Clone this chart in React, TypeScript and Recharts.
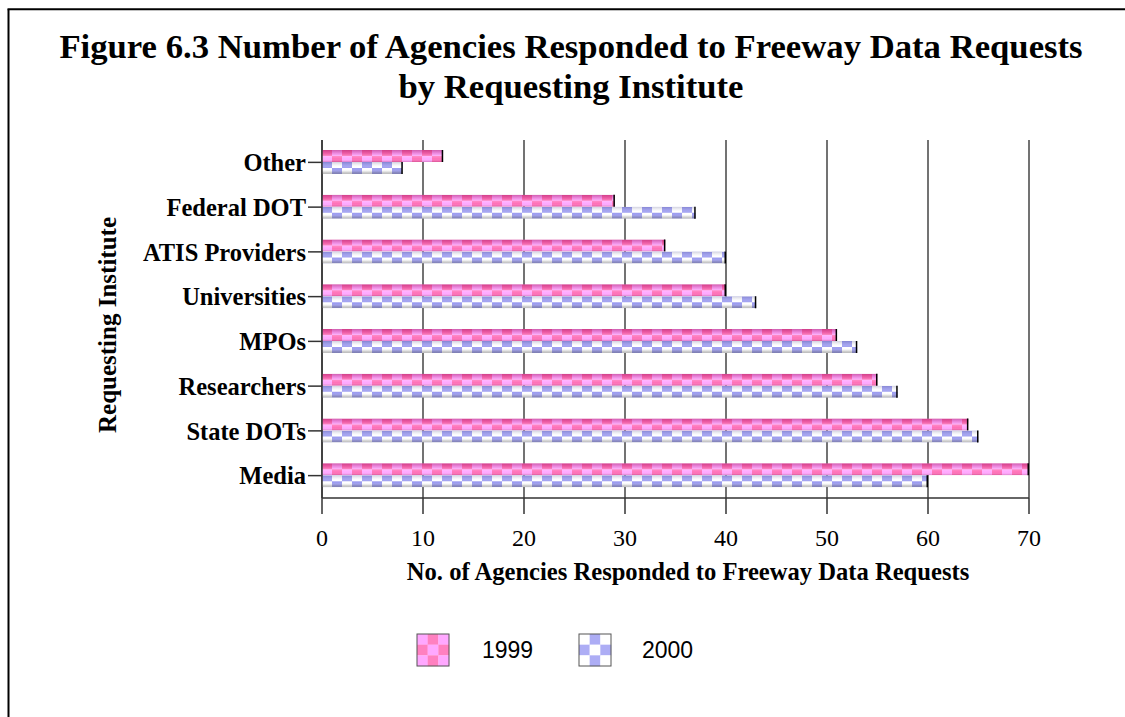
import React from "react";
import { BarChart, Bar, XAxis, YAxis, CartesianGrid } from "recharts";

const categories = ["Other", "Federal DOT", "ATIS Providers", "Universities", "MPOs", "Researchers", "State DOTs", "Media"];
const values1999 = [12, 29, 34, 40, 51, 55, 64, 70];
const values2000 = [8, 37, 40, 43, 53, 57, 65, 60];
const xTicks = [0, 10, 20, 30, 40, 50, 60, 70];
const seriesNames = ["1999", "2000"];

const data = categories.map((name, i) => ({ name, y1999: values1999[i], y2000: values2000[i] }));

const SERIF = "'Liberation Serif', 'Times New Roman', serif";
const SANS = "'Liberation Sans', Arial, sans-serif";

const makeShape = (pat: string, grad: string) => (props: any) => {
  const { x, y, width, height } = props;
  if (!width || width <= 0) return null;
  return (
    <g>
      <svg x={x} y={y} width={width} height={height} overflow="hidden">
        <rect x={0} y={0} width={width} height={height} fill={`url(#${pat})`} />
        <rect x={0} y={0} width={width} height={height} fill={`url(#${grad})`} />
      </svg>
      <line x1={x + width - 0.75} x2={x + width - 0.75} y1={y} y2={y + height} stroke="#000" strokeWidth={1.5} />
    </g>
  );
};

const Shape1999 = makeShape("chk99", "shade99");
const Shape2000 = makeShape("chk00", "shade00");

const Swatch = ({ x, y, a, b }: { x: number; y: number; a: string; b: string }) => {
  const cells = [];
  const s = 32 / 3;
  for (let r = 0; r < 3; r++) {
    for (let c = 0; c < 3; c++) {
      cells.push(<rect key={`${r}-${c}`} x={x + c * s} y={y + r * s} width={s + 0.2} height={s + 0.2} fill={(r + c) % 2 === 0 ? a : b} />);
    }
  }
  return (
    <g>
      {cells}
      <rect x={x} y={y} width={32} height={32} fill="none" stroke="#555" strokeWidth={1} />
    </g>
  );
};

export default function App() {
  return (
    <div style={{ position: "absolute", left: 0, top: 0, width: 1125, height: 717, background: "#fff" }}>
      <div style={{ position: "absolute", left: 0, top: 0 }}>
        <BarChart
          width={1125}
          height={717}
          data={data}
          layout="vertical"
          margin={{ top: 140, right: 96, bottom: 179, left: 122 }}
          barGap={0}
          barSize={12}
        >
          <CartesianGrid horizontal={false} vertical={true} stroke="#444" strokeWidth={1.5} />
          <XAxis
            type="number"
            domain={[0, 70]}
            ticks={xTicks}
            interval={0}
            height={40}
            tickSize={16}
            tickMargin={15}
            axisLine={{ stroke: "#333", strokeWidth: 1.5 }}
            tickLine={{ stroke: "#333", strokeWidth: 1.5 }}
            tick={{ fill: "#000", fontSize: 24, fontFamily: SERIF }}
          />
          <YAxis
            type="category"
            dataKey="name"
            width={200}
            interval={0}
            tickSize={14}
            tickMargin={2}
            axisLine={{ stroke: "#333", strokeWidth: 1.5 }}
            tickLine={{ stroke: "#333", strokeWidth: 1.5 }}
            tick={{ fill: "#000", fontSize: 24.5, fontFamily: SERIF, fontWeight: "bold" }}
          />
          <Bar dataKey="y1999" name={seriesNames[0]} isAnimationActive={false} shape={Shape1999} />
          <Bar dataKey="y2000" name={seriesNames[1]} isAnimationActive={false} shape={Shape2000} />
        </BarChart>
      </div>
      <svg width={1125} height={717} style={{ position: "absolute", left: 0, top: 0, pointerEvents: "none" }}>
        <defs>
          <pattern id="chk99" patternUnits="userSpaceOnUse" x={0} y={0} width={20} height={12}>
            <rect x={0} y={0} width={10} height={6} fill="#FF70B8" />
            <rect x={10} y={0} width={10} height={6} fill="#FFA8FF" />
            <rect x={0} y={6} width={10} height={6} fill="#FFA8FF" />
            <rect x={10} y={6} width={10} height={6} fill="#FF70B8" />
          </pattern>
          <pattern id="chk00" patternUnits="userSpaceOnUse" x={0} y={0} width={20} height={12}>
            <rect x={0} y={0} width={10} height={6} fill="#9C9CF0" />
            <rect x={10} y={0} width={10} height={6} fill="#FFFFFF" />
            <rect x={0} y={6} width={10} height={6} fill="#FFFFFF" />
            <rect x={10} y={6} width={10} height={6} fill="#9C9CF0" />
          </pattern>
          <linearGradient id="shade99" x1="0" y1="0" x2="0" y2="1">
            <stop offset="0" stopColor="rgb(150,0,80)" stopOpacity={0.45} />
            <stop offset="0.3" stopColor="rgb(150,0,80)" stopOpacity={0.15} />
            <stop offset="0.5" stopColor="#ffffff" stopOpacity={0.2} />
            <stop offset="0.75" stopColor="#ffffff" stopOpacity={0} />
            <stop offset="1" stopColor="rgb(120,0,60)" stopOpacity={0.3} />
          </linearGradient>
          <linearGradient id="shade00" x1="0" y1="0" x2="0" y2="1">
            <stop offset="0" stopColor="rgb(60,60,120)" stopOpacity={0.25} />
            <stop offset="0.4" stopColor="#ffffff" stopOpacity={0.1} />
            <stop offset="0.6" stopColor="#ffffff" stopOpacity={0} />
            <stop offset="0.85" stopColor="rgb(100,100,100)" stopOpacity={0.3} />
            <stop offset="1" stopColor="rgb(80,80,80)" stopOpacity={0.4} />
          </linearGradient>
        </defs>
        <line x1={8.5} y1={9.3} x2={8.5} y2={717} stroke="#000" strokeWidth={2} />
        <line x1={7.5} y1={9.3} x2={1125} y2={9.3} stroke="#000" strokeWidth={2} />
        <text x={571} y={58} textAnchor="middle" fontFamily={SERIF} fontWeight="bold" fontSize={34.7} fill="#000">
          Figure 6.3 Number of Agencies Responded to Freeway Data Requests
        </text>
        <text x={571} y={98} textAnchor="middle" fontFamily={SERIF} fontWeight="bold" fontSize={34.7} fill="#000">
          by Requesting Institute
        </text>
        <text x={688} y={580} textAnchor="middle" fontFamily={SERIF} fontWeight="bold" fontSize={24.6} fill="#000">
          No. of Agencies Responded to Freeway Data Requests
        </text>
        <text
          x={116}
          y={325}
          textAnchor="middle"
          transform="rotate(-90 116 325)"
          fontFamily={SERIF}
          fontWeight="bold"
          fontSize={25}
          fill="#000"
        >
          Requesting Institute
        </text>
        <Swatch x={417} y={634} a="#FFA8FF" b="#FF80C0" />
        <text x={482} y={658} fontFamily={SANS} fontSize={23} fill="#000">{seriesNames[0]}</text>
        <Swatch x={579} y={634} a="#FFFFFF" b="#ADADF5" />
        <text x={642} y={658} fontFamily={SANS} fontSize={23} fill="#000">{seriesNames[1]}</text>
      </svg>
    </div>
  );
}
